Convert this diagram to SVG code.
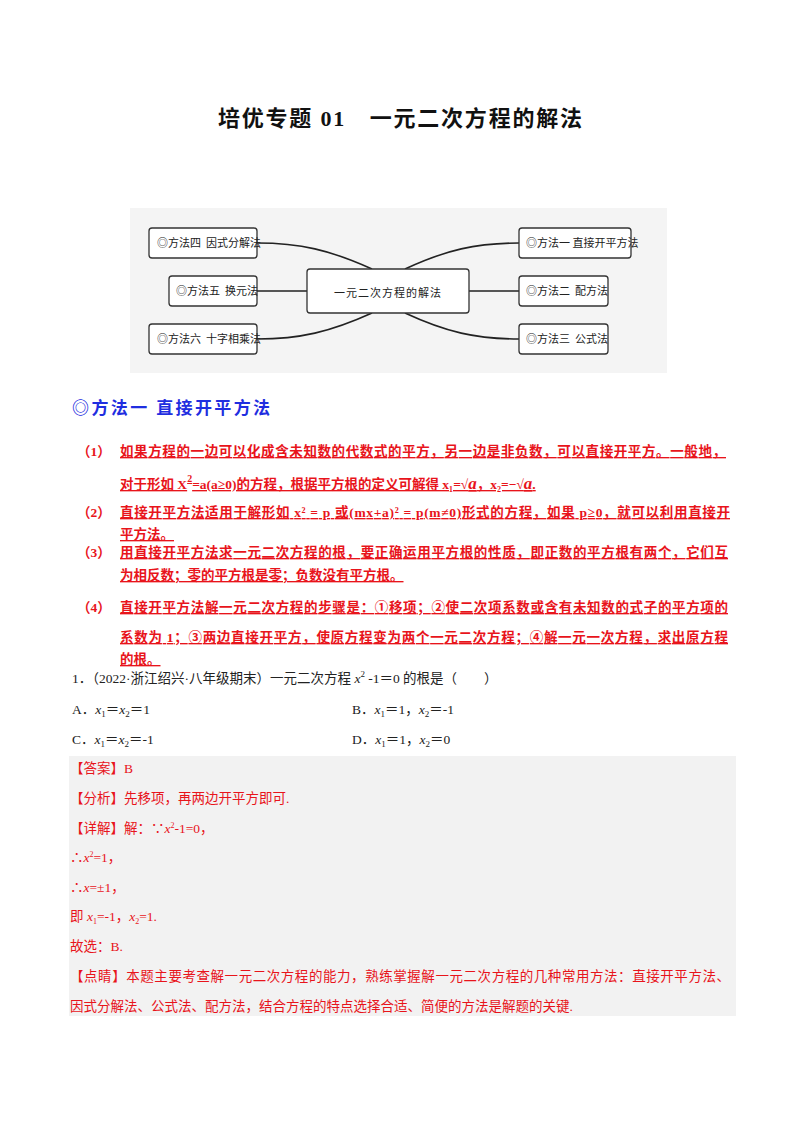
<svg xmlns="http://www.w3.org/2000/svg" width="800" height="1132" viewBox="0 0 800 1132">
<style>
.t{font-family:"Liberation Serif","Noto Sans CJK SC",serif}
.mm{font-family:"Noto Sans CJK SC",sans-serif;font-size:11px;fill:#222}
.box{fill:#fff;stroke:#333;stroke-width:1.3}
.r{font-family:"Liberation Serif","Noto Sans CJK SC",serif;font-size:13.5px;fill:#e8141b;font-weight:bold;text-decoration:underline}
.q{font-family:"Liberation Serif","Noto Sans CJK SC",serif;font-size:13.5px;fill:#222}
.a{font-family:"Liberation Serif","Noto Sans CJK SC",serif;font-size:13.5px;fill:#e8141b}
.conn{fill:none;stroke:#222;stroke-width:1.6}
</style>
<rect width="800" height="1132" fill="#fff"/>
<text class="t" x="218" y="126" font-size="22" font-weight="bold" fill="#111" textLength="364">培优专题 01　一元二次方程的解法</text>
<rect x="130" y="208" width="537" height="165" fill="#f4f4f4"/>
<g id="connectors">
<path class="conn" d="M257 243 C300 243 330 250 372 269"/>
<path class="conn" d="M257 291 L307 291"/>
<path class="conn" d="M257 339 C300 339 330 332 372 313"/>
<path class="conn" d="M519 243 C476 243 446 250 405 269"/>
<path class="conn" d="M469 291 L519 291"/>
<path class="conn" d="M519 339 C476 339 446 332 405 313"/>
</g>
<g id="center"><rect class="box" x="307" y="269" width="162" height="44" rx="3"/><text class="mm" x="388" y="297" text-anchor="middle" font-size="16" letter-spacing="1">一元二次方程的解法</text></g>
<g id="m4"><rect class="box" x="149" y="228" width="108" height="30" rx="3"/><text class="mm" x="157" y="247">◎方法四&#160;&#160;因式分解法</text></g>
<g id="m5"><rect class="box" x="169" y="276" width="88" height="30" rx="3"/><text class="mm" x="176" y="295">◎方法五&#160;&#160;换元法</text></g>
<g id="m6"><rect class="box" x="149" y="324" width="108" height="30" rx="3"/><text class="mm" x="157" y="343">◎方法六&#160;&#160;十字相乘法</text></g>
<g id="m1"><rect class="box" x="519" y="228" width="112" height="30" rx="3"/><text class="mm" x="526" y="247">◎方法一&#160;直接开平方法</text></g>
<g id="m2"><rect class="box" x="519" y="276" width="89" height="30" rx="3"/><text class="mm" x="526" y="295">◎方法二&#160;&#160;配方法</text></g>
<g id="m3"><rect class="box" x="519" y="324" width="89" height="30" rx="3"/><text class="mm" x="526" y="343">◎方法三&#160;&#160;公式法</text></g>
<text class="t" x="72" y="414" font-size="17" font-weight="bold" fill="#1f2ee0" textLength="198">◎方法一  直接开平方法</text>
<text class="a" x="77" y="456" font-weight="bold">（1）</text>
<text class="r" x="120" y="456" textLength="606">如果方程的一边可以化成含未知数的代数式的平方，另一边是非负数，可以直接开平方。一般地，</text>
<text class="r" x="120" y="489">对于形如 X<tspan dy="-7" font-size="10">2</tspan><tspan dy="7">=a(a≥0)的方程，根据平方根的定义可解得 x₁=√</tspan><tspan font-style="italic" font-size="17">a</tspan>，x₂=−√<tspan font-style="italic" font-size="17">a</tspan>.</text>
<text class="a" x="77" y="517" font-weight="bold">（2）</text>
<text class="r" x="120" y="517" textLength="610">直接开平方法适用于解形如 x² = p 或(mx+a)² = p(m≠0)形式的方程，如果 p≥0，就可以利用直接开</text>
<text class="r" x="120" y="539">平方法。</text>
<text class="a" x="77" y="557" font-weight="bold">（3）</text>
<text class="r" x="120" y="557" textLength="608">用直接开平方法求一元二次方程的根，要正确运用平方根的性质，即正数的平方根有两个，它们互</text>
<text class="r" x="120" y="580">为相反数；零的平方根是零；负数没有平方根。</text>
<text class="a" x="77" y="612" font-weight="bold" font-size="17">（4）</text>
<text class="r" x="120" y="612" textLength="608">直接开平方法解一元二次方程的步骤是：①移项；②使二次项系数或含有未知数的式子的平方项的</text>
<text class="r" x="120" y="642" textLength="608">系数为 1；③两边直接开平方，使原方程变为两个一元二次方程；④解一元一次方程，求出原方程</text>
<text class="r" x="120" y="664">的根。</text>
<text class="q" x="72" y="683">1．（2022·浙江绍兴·八年级期末）一元二次方程 <tspan font-style="italic">x</tspan><tspan dy="-6" font-size="9">2</tspan><tspan dy="6"> -1＝0 的根是（　　）</tspan></text>
<text class="q" x="72" y="714">A．<tspan font-style="italic">x</tspan><tspan font-size="9" dy="3">1</tspan><tspan dy="-3">＝</tspan><tspan font-style="italic">x</tspan><tspan font-size="9" dy="3">2</tspan><tspan dy="-3">＝1</tspan></text>
<text class="q" x="352" y="714">B．<tspan font-style="italic">x</tspan><tspan font-size="9" dy="3">1</tspan><tspan dy="-3">＝1，</tspan><tspan font-style="italic">x</tspan><tspan font-size="9" dy="3">2</tspan><tspan dy="-3">＝-1</tspan></text>
<text class="q" x="72" y="744">C．<tspan font-style="italic">x</tspan><tspan font-size="9" dy="3">1</tspan><tspan dy="-3">＝</tspan><tspan font-style="italic">x</tspan><tspan font-size="9" dy="3">2</tspan><tspan dy="-3">＝-1</tspan></text>
<text class="q" x="352" y="744">D．<tspan font-style="italic">x</tspan><tspan font-size="9" dy="3">1</tspan><tspan dy="-3">＝1，</tspan><tspan font-style="italic">x</tspan><tspan font-size="9" dy="3">2</tspan><tspan dy="-3">＝0</tspan></text>
<rect x="69" y="756" width="667" height="260" fill="#f2f2f2"/>
<text class="a" x="70" y="773">【答案】B</text>
<text class="a" x="70" y="803">【分析】先移项，再两边开平方即可.</text>
<text class="a" x="70" y="833">【详解】解：∵<tspan font-style="italic">x</tspan><tspan dy="-5" font-size="8">2</tspan><tspan dy="5">-1=0，</tspan></text>
<text class="a" x="70" y="862">∴<tspan font-style="italic">x</tspan><tspan dy="-5" font-size="8">2</tspan><tspan dy="5">=1，</tspan></text>
<text class="a" x="70" y="892">∴<tspan font-style="italic">x</tspan>=±1，</text>
<text class="a" x="70" y="921">即 <tspan font-style="italic">x</tspan><tspan font-size="8" dy="3">1</tspan><tspan dy="-3">=-1，</tspan><tspan font-style="italic">x</tspan><tspan font-size="8" dy="3">2</tspan><tspan dy="-3">=1.</tspan></text>
<text class="a" x="70" y="951">故选：B.</text>
<text class="a" x="70" y="981" textLength="660">【点睛】本题主要考查解一元二次方程的能力，熟练掌握解一元二次方程的几种常用方法：直接开平方法、</text>
<text class="a" x="70" y="1011">因式分解法、公式法、配方法，结合方程的特点选择合适、简便的方法是解题的关键.</text>
</svg>
